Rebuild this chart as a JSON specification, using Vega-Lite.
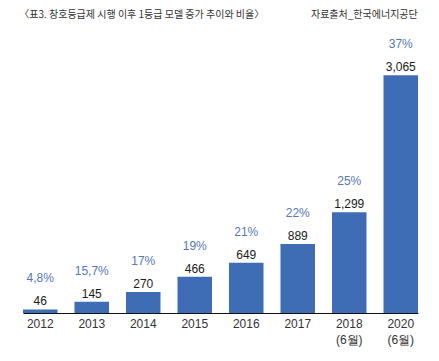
{
  "$schema": "https://vega.github.io/schema/vega-lite/v6.json",
  "width": 395,
  "height": 283,
  "autosize": {"type": "none"},
  "padding": {"left": 23, "top": 30, "right": 21, "bottom": 48},
  "background": "white",
  "config": {"view": {"stroke": null}, "font": "Noto Sans CJK KR"},
  "data": {
    "values": [
      {"year": "2012", "count": 46, "label": "46", "pct": "4,8%"},
      {"year": "2013", "count": 145, "label": "145", "pct": "15,7%"},
      {"year": "2014", "count": 270, "label": "270", "pct": "17%"},
      {"year": "2015", "count": 466, "label": "466", "pct": "19%"},
      {"year": "2016", "count": 649, "label": "649", "pct": "21%"},
      {"year": "2017", "count": 889, "label": "889", "pct": "22%"},
      {"year": "2018 (6월)", "count": 1299, "label": "1,299", "pct": "25%"},
      {"year": "2020 (6월)", "count": 3065, "label": "3,065", "pct": "37%"}
    ]
  },
  "layer": [
    {
      "mark": {"type": "bar", "color": "#3e6db5"},
      "encoding": {
        "x": {
          "field": "year",
          "type": "ordinal",
          "sort": null,
          "scale": {"paddingInner": 0.33, "paddingOuter": 0},
          "axis": {
            "title": null,
            "labelAngle": 0,
            "labelExpr": "split(datum.label, ' ')",
            "labelFont": "Liberation Sans",
            "labelFontSize": 12,
            "labelColor": "#333333",
            "labelLineHeight": 16,
            "labelPadding": 5,
            "ticks": false,
            "domainColor": "#111111",
            "domainWidth": 1.2,
            "grid": false
          }
        },
        "y": {
          "field": "count",
          "type": "quantitative",
          "scale": {"domain": [0, 3650], "nice": false},
          "axis": null
        }
      }
    },
    {
      "mark": {"type": "text", "baseline": "alphabetic", "dy": -4, "font": "Liberation Sans", "fontSize": 12, "color": "#1a1a1a"},
      "encoding": {
        "x": {"field": "year", "type": "ordinal", "sort": null},
        "y": {"field": "count", "type": "quantitative"},
        "text": {"field": "label"}
      }
    },
    {
      "mark": {"type": "text", "baseline": "alphabetic", "dy": -27, "font": "Liberation Sans", "fontSize": 12, "color": "#5577b3"},
      "encoding": {
        "x": {"field": "year", "type": "ordinal", "sort": null},
        "y": {"field": "count", "type": "quantitative"},
        "text": {"field": "pct"}
      }
    },
    {
      "data": {"values": [{"note": "〈표3. 창호등급제 시행 이후 1등급 모델 증가 추이와 비율〉", "year": "2012", "count": 3650}]},
      "mark": {"type": "text", "align": "left", "baseline": "alphabetic", "dx": -21, "dy": -12, "font": "Noto Sans CJK KR", "fontSize": 10, "color": "#333333"},
      "encoding": {
        "x": {"field": "year", "type": "ordinal", "sort": null},
        "y": {"field": "count", "type": "quantitative"},
        "text": {"field": "note"}
      }
    },
    {
      "data": {"values": [{"source": "자료출처_한국에너지공단", "year": "2020 (6월)", "count": 3650}]},
      "mark": {"type": "text", "align": "right", "baseline": "alphabetic", "dx": 17, "dy": -12, "font": "Noto Sans CJK KR", "fontSize": 10, "color": "#333333"},
      "encoding": {
        "x": {"field": "year", "type": "ordinal", "sort": null},
        "y": {"field": "count", "type": "quantitative"},
        "text": {"field": "source"}
      }
    }
  ]
}
